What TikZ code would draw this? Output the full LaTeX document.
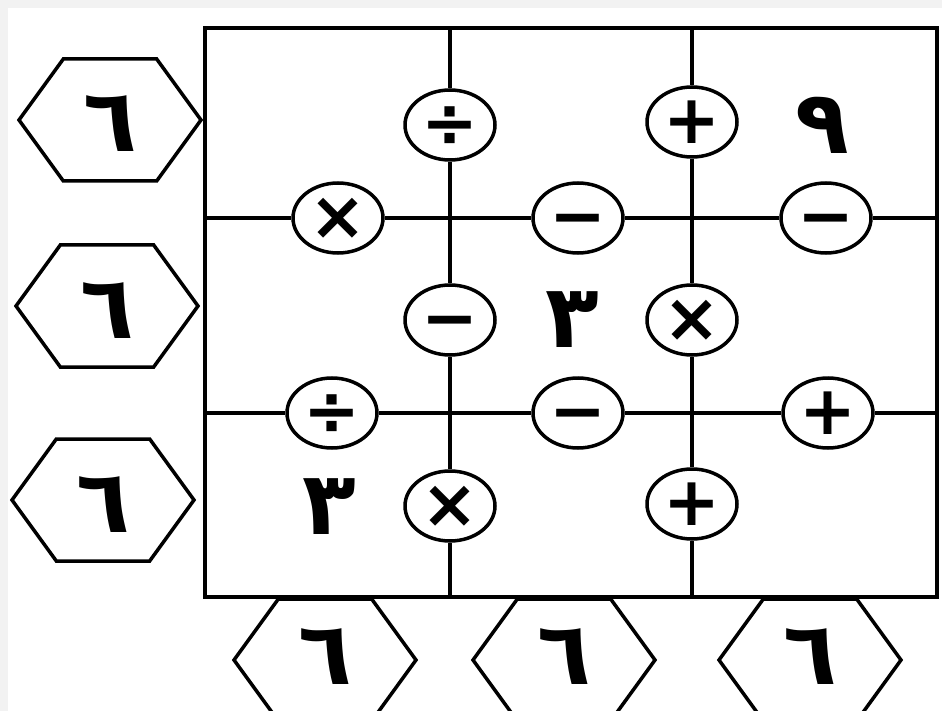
\documentclass[tikz,border=0pt]{standalone}
\usepackage{fontspec}
\usetikzlibrary{shapes.geometric, shapes.symbols}
\newfontfamily\arabicfont[Script=Arabic]{DejaVu Sans}
\newfontfamily\opfont{DejaVu Sans}

\begin{document}
\begin{tikzpicture}[x=1pt, y=-1pt, line width=3.5pt, every node/.style={inner sep=0pt},
  op/.style={draw, ellipse, fill=white, minimum width=90pt, minimum height=70pt,
    font=\opfont\bfseries\fontsize{68}{68}\selectfont, text height=43pt, text depth=0pt},
  hexa/.style={draw, signal, signal to=west and east, signal pointer angle=108, fill=white,
    minimum width=182pt, minimum height=122pt,
    font=\arabicfont\bfseries\fontsize{88}{88}\selectfont, text height=64pt, text depth=0pt},
  lowhexa/.style={hexa, text height=56pt, text depth=8pt},
  num/.style={font=\arabicfont\bfseries\fontsize{88}{88}\selectfont, text height=64pt, text depth=0pt}]
      \useasboundingbox (0,0) rectangle (942,711); \clip (0,0) rectangle (942,711);
      \fill[gray!10] (0,0) rectangle (942,711); \fill[white] (8,8) rectangle (942,711);

      \coordinate (v1t) at (450,28); \coordinate (v1b) at (450,597);
      \coordinate (v2t) at (692,28); \coordinate (v2b) at (692,597);
      \coordinate (h1l) at (205,218); \coordinate (h1r) at (937,218);
      \coordinate (h2l) at (205,413); \coordinate (h2r) at (937,413);
      \draw[line width=4.5pt] (h1l |- v1t) rectangle (h1r |- v1b);

      \node[op] (dv1) at (450,125) {÷}; \node[op] (pl1) at (692,122) {+};
      \node[op] (ti1) at (338,218) {×}; \node[op] (mi1) at (578,218) {−};
      \node[op] (mi2) at (826,218) {−}; \node[op] (mi3) at (450,320) {−};
      \node[op] (ti2) at (692,320) {×}; \node[op] (dv2) at (332,413) {÷};
      \node[op] (mi4) at (578,413) {−}; \node[op] (pl2) at (828,413) {+};
      \node[op] (ti3) at (450,506) {×}; \node[op] (pl3) at (692,504) {+};

      \node[num] (n9) at (822,122) {٩}; \node[num] (n3a) at (572,315) {٣};
      \node[num] (n3b) at (329,502) {٣};

      \node[hexa] (hl1) at (110,120) {٦}; \node[hexa] (hl2) at (107,306) {٦};
      \node[hexa] (hl3) at (103,500) {٦}; \node[lowhexa] (hb1) at (325,660) {٦};
      \node[lowhexa] (hb2) at (564,660) {٦}; \node[lowhexa] (hb3) at (810,660) {٦};

      \draw (v1t) -- (dv1) -- (mi3) -- (ti3) -- (v1b);
      \draw (v2t) -- (pl1) -- (ti2) -- (pl3) -- (v2b);
      \draw (h1l) -- (ti1) -- (mi1) -- (mi2) -- (h1r);
      \draw (h2l) -- (dv2) -- (mi4) -- (pl2) -- (h2r);
    \end{tikzpicture}
\end{document}
